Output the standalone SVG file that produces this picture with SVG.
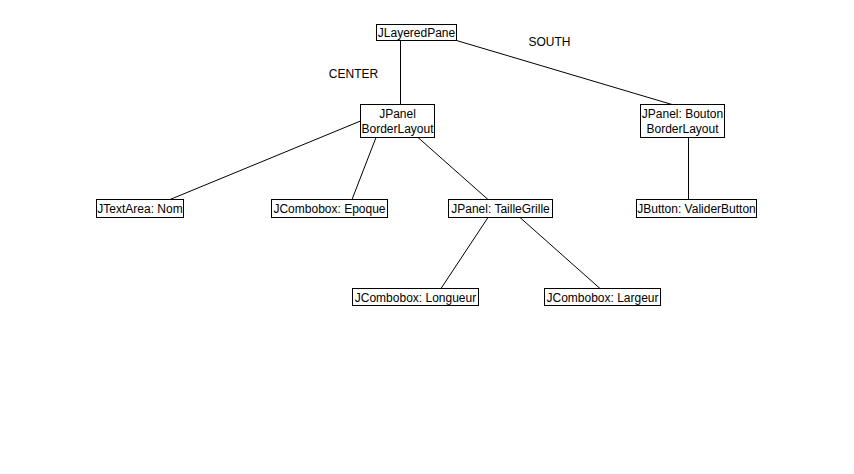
<svg xmlns="http://www.w3.org/2000/svg" width="854" height="474" viewBox="0 0 854 474">
<style>
.box{fill:#fff;stroke:#000;stroke-width:1}
.t{font-family:"Liberation Sans",Arial,sans-serif;font-size:12px;fill:#000;text-anchor:middle}
.c line{stroke:#000;stroke-width:1}
</style>
<rect width="854" height="474" fill="#fff"/>
<g class="c" id="connectors">
<line x1="400.5" y1="40.5" x2="400.5" y2="104.5"/>
<line x1="456.5" y1="40.5" x2="672" y2="104.5"/>
<line x1="360.5" y1="121" x2="170" y2="199.5"/>
<line x1="376" y1="137.5" x2="352" y2="199.5"/>
<line x1="418" y1="137.5" x2="488" y2="199.5"/>
<line x1="688.5" y1="137.5" x2="688.5" y2="199.5"/>
<line x1="488" y1="217.5" x2="441" y2="288.5"/>
<line x1="520" y1="217.5" x2="600" y2="288.5"/>
</g>
<g id="labels">
<text class="t" x="353.5" y="78">CENTER</text>
<text class="t" x="549.5" y="46">SOUTH</text>
</g>
<g id="jlayeredpane">
<rect class="box" x="376.5" y="24.5" width="80" height="16"/>
<text class="t" x="416.5" y="37">JLayeredPane</text>
</g>
<g id="jpanel">
<rect class="box" x="360.5" y="104.5" width="74" height="33"/>
<text class="t" x="397.5" y="118">JPanel</text>
<text class="t" x="397.5" y="133">BorderLayout</text>
</g>
<g id="jpanelbouton">
<rect class="box" x="640.5" y="104.5" width="84" height="33"/>
<text class="t" x="682.5" y="118">JPanel: Bouton</text>
<text class="t" x="682.5" y="133">BorderLayout</text>
</g>
<g id="jtextarea">
<rect class="box" x="96.5" y="199.5" width="87" height="18"/>
<text class="t" x="140" y="213">JTextArea: Nom</text>
</g>
<g id="epoque">
<rect class="box" x="271.5" y="199.5" width="116" height="18"/>
<text class="t" x="329.5" y="213">JCombobox: Epoque</text>
</g>
<g id="taillegrille">
<rect class="box" x="448.5" y="199.5" width="104" height="18"/>
<text class="t" x="500.5" y="213">JPanel: TailleGrille</text>
</g>
<g id="jbutton">
<rect class="box" x="636.5" y="199.5" width="120" height="18"/>
<text class="t" x="696.5" y="213">JButton: ValiderButton</text>
</g>
<g id="longueur">
<rect class="box" x="352.5" y="288.5" width="126" height="17"/>
<text class="t" x="415.5" y="302">JCombobox: Longueur</text>
</g>
<g id="largeur">
<rect class="box" x="544.5" y="288.5" width="116" height="17"/>
<text class="t" x="602.5" y="302">JCombobox: Largeur</text>
</g>
</svg>
